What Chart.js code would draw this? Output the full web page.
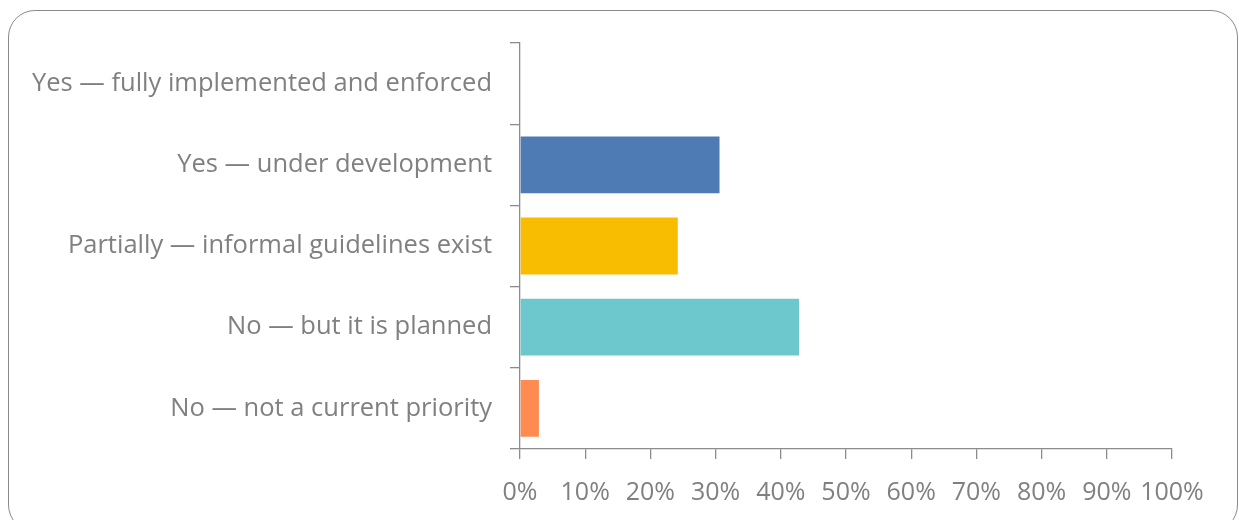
<!DOCTYPE html>
<html>
<head>
<meta charset="utf-8">
<script src="https://cdn.jsdelivr.net/npm/chart.js@4/dist/chart.umd.min.js"></script>
<style>
  html, body { margin: 0; padding: 0; background: #fff; }
  body { width: 1239px; height: 520px; position: relative; overflow: hidden; }
  #frame {
    position: absolute; left: 8px; top: 10px;
    width: 1228px; height: 520px;
    border: 1.5px solid #8a8a8a; border-radius: 27px;
  }
  #wrap { position: absolute; left: 0; top: 0; width: 1239px; height: 520px; }
</style>
</head>
<body>
<div id="frame"></div>
<div id="wrap"><canvas id="barChart"></canvas></div>
<script>
// Survey answers (percent of respondents)
const categories = [
    'Yes — fully implemented and enforced',
    'Yes — under development',
    'Partially — informal guidelines exist',
    'No — but it is planned',
    'No — not a current priority'
];
const shares = [0, 30.6, 24.2, 42.8, 2.9];
const barColors = ['#4E7BB4', '#4E7BB4', '#F8BD00', '#6CC8CC', '#FF8B50'];
const xTicks = [0, 10, 20, 30, 40, 50, 60, 70, 80, 90, 100];

const axisGrey = '#8c8c8c';
const textGrey = '#808080';
const fontFamily = '"Open Sans", Lato, sans-serif';

const ctx = document.getElementById('barChart').getContext('2d');
const barChart = new Chart(ctx, {
    type: 'bar',
    data: {
        labels: categories,
        datasets: [{
            data: shares,
            backgroundColor: barColors,
            borderWidth: 0,
            categoryPercentage: 1,
            barPercentage: 0.7
        }]
    },
    options: {
        indexAxis: 'y',
        responsive: true,
        maintainAspectRatio: false,
        animation: false,
        layout: { padding: { left: 0, right: 67, top: 43, bottom: 0 } },
        plugins: { legend: { display: false }, tooltip: { enabled: false } },
        scales: {
            x: {
                min: 0,
                max: 100,
                afterBuildTicks: (scale) => { scale.ticks = xTicks.map(v => ({ value: v })); },
                afterFit: (scale) => { scale.height = 71; },
                grid: { drawOnChartArea: false, drawTicks: true, tickLength: 10, color: axisGrey, lineWidth: 1.3 },
                border: { display: true, color: axisGrey, width: 1.3 },
                ticks: {
                    color: textGrey,
                    padding: 19,
                    autoSkip: false,
                    maxRotation: 0,
                    font: { family: fontFamily, size: 25 },
                    callback: (v) => v + '%'
                }
            },
            y: {
                afterFit: (scale) => { scale.width = 520; },
                grid: { drawOnChartArea: false, drawTicks: true, tickLength: 10, color: axisGrey, lineWidth: 1.3, offset: true },
                border: { display: true, color: axisGrey, width: 1.3 },
                ticks: {
                    color: textGrey,
                    padding: 18,
                    autoSkip: false,
                    font: { family: fontFamily, size: 25.5 }
                }
            }
        }
    }
});
</script>
</body>
</html>
